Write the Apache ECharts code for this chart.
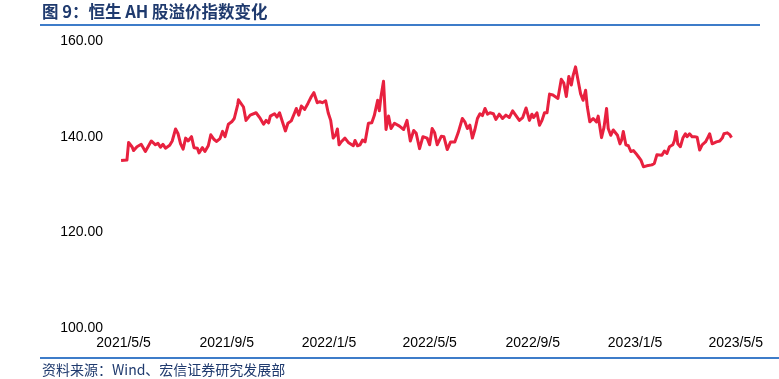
<!DOCTYPE html>
<html>
<head>
<meta charset="utf-8">
<script src="https://cdn.jsdelivr.net/npm/echarts@6/dist/echarts.min.js"></script>
<style>html,body{margin:0;padding:0;background:#fff;}#chart{width:779px;height:379px;}</style>
</head>
<body>
<div id="chart"></div>
<script>
var titleText = '图 9：恒生 AH 股溢价指数变化';
var sourceText = '资料来源：Wind、宏信证券研究发展部';
var xTickDates = ['2021-05-05','2021-09-05','2022-01-05','2022-05-05','2022-09-05','2023-01-05','2023-05-05'];
var yTicks = [100, 120, 140, 160];
var dates = [
'2021-05-02','2021-05-09','2021-05-11','2021-05-15','2021-05-17','2021-05-21','2021-05-26','2021-05-31',
'2021-06-07','2021-06-12','2021-06-15','2021-06-18','2021-06-21','2021-06-24','2021-06-29','2021-07-02',
'2021-07-06','2021-07-09','2021-07-12','2021-07-15','2021-07-18','2021-07-21','2021-07-25','2021-07-28',
'2021-08-01','2021-08-03','2021-08-07','2021-08-10','2021-08-14','2021-08-17','2021-08-21','2021-08-24',
'2021-08-28','2021-08-31','2021-09-03','2021-09-07','2021-09-11','2021-09-14','2021-09-18','2021-09-19',
'2021-09-21','2021-09-25','2021-09-28','2021-10-03','2021-10-10','2021-10-15','2021-10-19','2021-10-22',
'2021-10-25','2021-10-27','2021-11-01','2021-11-04','2021-11-07','2021-11-11','2021-11-14','2021-11-17',
'2021-11-21','2021-11-25','2021-11-27','2021-11-30','2021-12-03','2021-12-07','2021-12-11','2021-12-15',
'2021-12-18','2021-12-22','2021-12-25','2021-12-28','2022-01-01','2022-01-04','2022-01-07','2022-01-10',
'2022-01-13','2022-01-15','2022-01-17','2022-01-20','2022-01-24','2022-01-28','2022-02-03','2022-02-05',
'2022-02-08','2022-02-11','2022-02-14','2022-02-17','2022-02-21','2022-02-25','2022-02-28','2022-03-04',
'2022-03-06','2022-03-08','2022-03-11','2022-03-14','2022-03-17','2022-03-20','2022-03-24','2022-03-30',
'2022-04-04','2022-04-08','2022-04-12','2022-04-16','2022-04-19','2022-04-23','2022-04-27','2022-05-02',
'2022-05-05','2022-05-08','2022-05-11','2022-05-14','2022-05-19','2022-05-22','2022-05-26','2022-05-30',
'2022-06-04','2022-06-08','2022-06-13','2022-06-16','2022-06-19','2022-06-22','2022-06-25','2022-06-28',
'2022-07-01','2022-07-04','2022-07-07','2022-07-10','2022-07-13','2022-07-16','2022-07-20','2022-07-23',
'2022-07-27','2022-07-31','2022-08-04','2022-08-08','2022-08-12','2022-08-16','2022-08-20','2022-08-24',
'2022-08-28','2022-09-01','2022-09-04','2022-09-06','2022-09-10','2022-09-13','2022-09-16','2022-09-19',
'2022-09-22','2022-09-25','2022-09-29','2022-10-05','2022-10-09','2022-10-12','2022-10-15','2022-10-18',
'2022-10-21','2022-10-23','2022-10-26','2022-10-29','2022-11-01','2022-11-04','2022-11-07','2022-11-09',
'2022-11-12','2022-11-16','2022-11-20','2022-11-22','2022-11-26','2022-11-29','2022-12-02','2022-12-04',
'2022-12-07','2022-12-10','2022-12-12','2022-12-15','2022-12-18','2022-12-20','2022-12-22','2022-12-25',
'2022-12-28','2022-12-31','2023-01-03','2023-01-06','2023-01-09','2023-01-12','2023-01-15','2023-01-19',
'2023-01-25','2023-01-28','2023-01-31','2023-02-02','2023-02-06','2023-02-09','2023-02-12','2023-02-15',
'2023-02-19','2023-02-21','2023-02-23','2023-02-25','2023-02-28','2023-03-03','2023-03-06','2023-03-08',
'2023-03-11','2023-03-14','2023-03-17','2023-03-20','2023-03-23','2023-03-26','2023-03-30','2023-04-02',
'2023-04-04','2023-04-07','2023-04-12','2023-04-16','2023-04-19','2023-04-21','2023-04-25','2023-04-28',
'2023-04-30'
];
var values = [
135.0,135.1,138.8,137.9,137.1,137.9,138.4,136.9,
139.1,138.3,138.6,137.8,138.4,137.6,138.2,139.1,
141.6,140.6,138.5,137.4,139.7,139.1,140.0,137.7,
137.6,136.6,137.7,136.9,138.1,140.4,139.4,139.0,
139.6,141.1,140.0,142.6,143.1,143.8,146.6,147.7,
147.6,146.2,143.4,144.5,145.0,143.8,142.6,143.4,
142.9,144.3,144.8,144.1,145.0,142.8,141.2,142.8,
143.3,145.0,145.9,144.5,146.4,145.7,147.0,148.4,
149.2,147.1,147.3,147.1,147.5,145.0,143.4,139.7,
140.4,141.6,138.3,139.0,139.7,138.8,138.1,139.2,
138.1,138.3,139.3,138.9,142.8,142.9,144.4,147.6,
145.4,148.4,151.6,141.5,144.3,141.7,142.8,142.2,
141.5,143.4,139.1,141.3,140.7,137.5,140.0,139.7,
138.3,141.7,140.8,138.3,140.1,140.0,137.3,138.9,
138.9,140.8,143.8,143.1,141.7,142.4,139.7,141.5,
143.8,144.8,144.4,145.9,144.7,145.0,144.8,143.6,
144.7,143.8,144.5,144.0,145.4,144.4,143.4,144.0,
146.0,143.4,144.7,144.0,145.0,142.4,143.4,145.0,
145.0,148.9,148.7,148.0,152.0,151.2,148.4,152.6,
150.8,152.7,154.6,151.8,149.0,147.6,149.7,146.3,
143.1,143.8,143.1,144.3,139.8,142.0,145.9,141.7,
140.3,141.4,141.1,140.3,138.5,139.3,141.1,138.3,
138.1,136.9,137.1,136.5,135.8,135.1,133.7,133.9,
134.1,134.4,136.2,136.6,136.1,137.0,136.5,137.9,
138.3,139.2,141.1,138.5,137.9,139.7,140.6,140.0,
140.6,140.0,140.0,139.9,137.2,138.3,138.9,139.9,
140.6,138.5,138.9,139.1,139.7,140.6,140.8,140.4,
139.8
];

function parseDate(s) {
  var p = s.split('-');
  return new Date(+p[0], +p[1] - 1, +p[2]).getTime();
}
var seriesData = dates.map(function (d, i) { return [parseDate(d), values[i]]; });
var xTickValues = xTickDates.map(parseDate);

var chart = echarts.init(document.getElementById('chart'), null, {renderer: 'canvas'});
chart.setOption({
  animation: false,
  backgroundColor: '#ffffff',
  grid: {left: 111, right: 19, top: 41, bottom: 51, containLabel: false},
  xAxis: {
    type: 'value',
    min: parseDate('2021-04-20'),
    max: parseDate('2023-06-03'),
    axisLine: {show: false},
    axisTick: {show: false},
    splitLine: {show: false},
    axisLabel: {
      customValues: xTickValues,
      margin: 8,
      color: '#000',
      fontSize: 14,
      fontFamily: 'Liberation Sans, Arial, sans-serif',
      formatter: function (v) {
        var d = new Date(v);
        return d.getFullYear() + '/' + (d.getMonth() + 1) + '/' + d.getDate();
      }
    }
  },
  yAxis: {
    type: 'value',
    min: yTicks[0],
    max: yTicks[yTicks.length - 1],
    interval: 20,
    axisLine: {show: false},
    axisTick: {show: false},
    splitLine: {show: false},
    axisLabel: {
      margin: 8,
      color: '#000',
      fontSize: 14,
      fontFamily: 'Liberation Sans, Arial, sans-serif',
      formatter: function (v) { return v.toFixed(2); }
    }
  },
  series: [{
    type: 'line',
    data: seriesData,
    showSymbol: false,
    symbol: 'none',
    lineStyle: {color: '#E8213F', width: 3, join: 'round'},
    itemStyle: {color: '#E8213F'}
  }],
  graphic: [
    {type: 'text', left: 42, top: 3, style: {text: titleText, fill: '#1F3A6E', font: 'bold 16.5px "Noto Sans CJK SC", sans-serif'}},
    {type: 'rect', shape: {x: 40, y: 24, width: 720, height: 2}, style: {fill: '#3D7CC9'}},
    {type: 'rect', shape: {x: 40, y: 357, width: 739, height: 2}, style: {fill: '#3D7CC9'}},
    {type: 'text', left: 42, top: 363, style: {text: sourceText, fill: '#1F3A6E', font: '14px "Noto Sans CJK SC", sans-serif'}}
  ]
});
</script>
</body>
</html>
